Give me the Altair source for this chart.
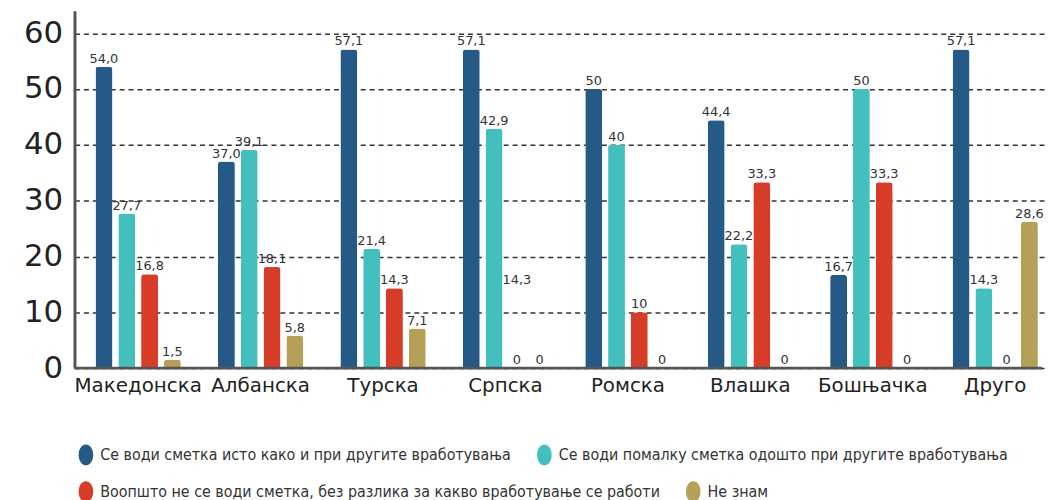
import altair as alt
import pandas as pd

groups = ["Македонска", "Албанска", "Турска", "Српска", "Ромска", "Влашка", "Бошњачка", "Друго"]
series = [
    "Се води сметка исто како и при другите вработувања",
    "Се води помалку сметка одошто при другите вработувања",
    "Воопшто не се води сметка, без разлика за какво вработување се работи",
    "Не знам",
]
colors = ["#245a85", "#43c0bd", "#d63c27", "#b4a056"]

values_blue = [54.0, 37.0, 57.1, 57.1, 50, 44.4, 16.7, 57.1]
values_teal = [27.7, 39.1, 21.4, 42.9, 40, 22.2, 50, 14.3]
values_red = [16.8, 18.1, 14.3, 0, 10, 33.3, 33.3, 0]
values_gold = [1.5, 5.8, 7.1, 0, 0, 0, 0, 26.2]

labels_blue = ["54,0", "37,0", "57,1", "57,1", "50", "44,4", "16,7", "57,1"]
labels_teal = ["27,7", "39,1", "21,4", "42,9", "40", "22,2", "50", "14,3"]
labels_red = ["16,8", "18,1", "14,3", "0", "10", "33,3", "33,3", "0"]
labels_gold = ["1,5", "5,8", "7,1", "0", "0", "0", "0", "28,6"]

# extra floating label seen in the source (Српска, third series)
extra_group = ["Српска"]
extra_series = [series[2]]
extra_value = [14.3]
extra_label = ["14,3"]

rows = []
for s, vals, labs in zip(series, [values_blue, values_teal, values_red, values_gold],
                         [labels_blue, labels_teal, labels_red, labels_gold]):
    for g, v, l in zip(groups, vals, labs):
        rows.append({"group": g, "series": s, "value": v, "label": l})
df = pd.DataFrame(rows)
lab_df = pd.concat([
    df,
    pd.DataFrame({"group": extra_group, "series": extra_series,
                  "value": extra_value, "label": extra_label}),
], ignore_index=True)

ellipse = "M0,-1A0.7,1,0,1,1,0,1A0.7,1,0,1,1,0,-1Z"
legend_font = "DejaVu Sans Condensed, Liberation Sans, sans-serif"

x_enc = alt.X("group:N", sort=groups, title=None,
              scale=alt.Scale(range=[0, 992], paddingInner=0, paddingOuter=0.02),
              axis=alt.Axis(labelAngle=0, domain=False, ticks=False, grid=False,
                            labelFont="DejaVu Sans", labelFontSize=20, labelColor="#222",
                            labelPadding=8))
xo_enc = alt.XOffset("series:N", sort=series,
                     scale=alt.Scale(domain=series, paddingInner=0.26, paddingOuter=0.815))
y_scale = alt.Scale(domain=[0, 64], nice=False)
y_axis = alt.Axis(values=[0, 10, 20, 30, 40, 50, 60], ticks=False,
                  domainColor="#555", domainWidth=3,
                  gridColor="#333", gridWidth=1.5, gridDash=[5, 4],
                  labelFont="DejaVu Sans", labelFontSize=31, labelColor="#222",
                  labelPadding=12)


def legend(y):
    return alt.Legend(orient="none", legendX=1, legendY=y, direction="horizontal",
                      columns=2, symbolType=ellipse, symbolSize=441,
                      symbolStrokeWidth=0, labelFont=legend_font,
                      labelFontSize=16, labelColor="#333", labelLimit=800,
                      labelOffset=4, columnPadding=22, padding=0)


bars_a = alt.Chart(df[df["series"].isin(series[:2])]).mark_bar(
    cornerRadiusTopLeft=3, cornerRadiusTopRight=3).encode(
    x=x_enc,
    xOffset=xo_enc,
    y=alt.Y("value:Q", scale=y_scale, title=None, axis=y_axis),
    color=alt.Color("series:N", sort=series[:2], title=None,
                    scale=alt.Scale(domain=series[:2], range=colors[:2]),
                    legend=legend(437)),
)
bars_b = alt.Chart(df[df["series"].isin(series[2:])]).mark_bar(
    cornerRadiusTopLeft=3, cornerRadiusTopRight=3).encode(
    x=x_enc,
    xOffset=xo_enc,
    y=alt.Y("value:Q", scale=y_scale, title=None, axis=y_axis),
    color=alt.Color("series:N", sort=series[2:], title=None,
                    scale=alt.Scale(domain=series[2:], range=colors[2:]),
                    legend=legend(474)),
)

texts = alt.Chart(lab_df).mark_text(baseline="alphabetic", dy=-4, font="DejaVu Sans",
                                    fontSize=13, color="#333").encode(
    x=alt.X("group:N", sort=groups),
    xOffset=alt.XOffset("series:N", sort=series),
    y=alt.Y("value:Q"),
    text="label:N",
)

base_line = alt.Chart(pd.DataFrame({"v": [0]})).mark_rule(color="#555", strokeWidth=3).encode(
    y=alt.Y("v:Q")
)

chart = alt.layer(bars_a, bars_b, texts, base_line).resolve_scale(
    color="independent"
).properties(
    width=975, height=360,
    padding={"left": 67, "top": 1, "right": 3, "bottom": 131},
    autosize=alt.AutoSizeParams(type="none"),
).configure_view(stroke=None)

chart.save("out.html", embed_options={"renderer": "svg", "actions": False})
